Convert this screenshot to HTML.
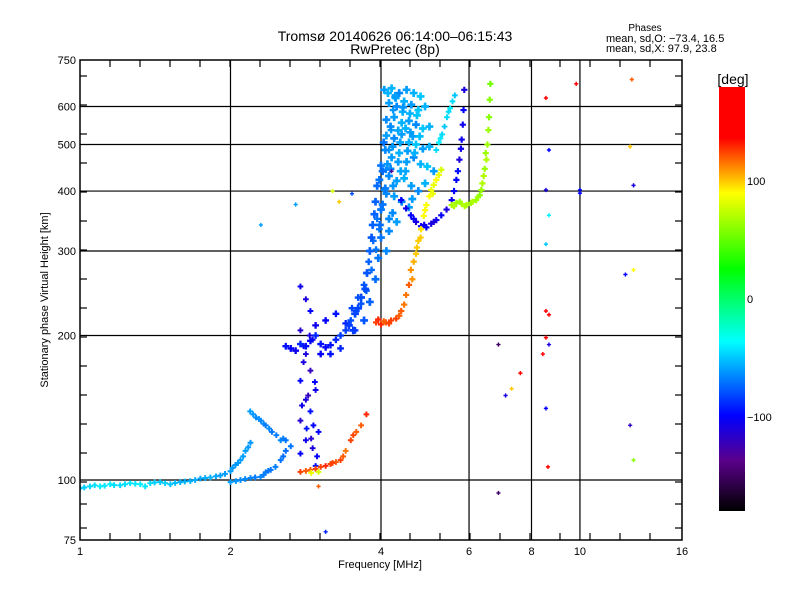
<!DOCTYPE html>
<html><head><meta charset="utf-8"><style>
html,body{margin:0;padding:0;background:#fff;}
svg{display:block;font-family:"Liberation Sans",sans-serif;}
</style></head><body>
<svg id="chart" width="800" height="600" viewBox="0 0 800 600">
<rect x="0" y="0" width="800" height="600" fill="#fff"/>
<defs>
<linearGradient id="cbar" x1="0" y1="0" x2="0" y2="1">
<stop offset="0" stop-color="#ff0000"/><stop offset="0.12" stop-color="#ff0000"/>
<stop offset="0.25" stop-color="#ffff00"/><stop offset="0.43" stop-color="#00ff00"/>
<stop offset="0.6" stop-color="#00ffff"/><stop offset="0.775" stop-color="#0000ff"/>
<stop offset="0.88" stop-color="#5a008c"/><stop offset="1" stop-color="#000000"/>
</linearGradient>
<clipPath id="plotclip"><rect x="80" y="60" width="602" height="480"/></clipPath>
</defs>
<g id="grid"></g>
<g id="marks" clip-path="url(#plotclip)"></g>
<rect x="80" y="60" width="602" height="480" fill="none" stroke="#000" stroke-width="1.5"/>
<g id="ticks"></g>
<text x="395" y="41" font-size="14" text-anchor="middle">Tromsø 20140626 06:14:00–06:15:43</text>
<text x="395" y="54" font-size="14" text-anchor="middle">RwPretec (8p)</text>
<text x="645" y="31" font-size="10" text-anchor="middle">Phases</text>
<text x="606" y="42" font-size="11">mean, sd,O: −73.4, 16.5</text>
<text x="606" y="52" font-size="11">mean, sd,X:  97.9, 23.8</text>
<text x="380" y="568" font-size="11" text-anchor="middle">Frequency [MHz]</text>
<text x="48" y="300" font-size="11" text-anchor="middle" transform="rotate(-90 48 300)">Stationary phase Virtual Height [km]</text>
<rect x="719" y="87" width="26" height="424" fill="url(#cbar)"/>
<text x="733" y="84" font-size="14" text-anchor="middle">[deg]</text>
<g id="cbticks"></g>
</svg>
<script>
const xTickVals = [1,2,4,6,8,10,16];
const xTickLabels = ["1","2","4","6","8","10","16"];
const yTickVals = [75,100,200,300,400,500,600,750];
const yTickLabels = ["75","100","200","300","400","500","600","750"];
const cbVals = [100,0,-100];
const cbLabels = ["100","0","−100"];

const aF=[1.0,1.02,1.047,1.07,1.097,1.12,1.149,1.17,1.203,1.23,1.26,1.29,1.32,1.35,1.382,1.41,1.447,1.48,1.516,1.55,1.587,1.62,1.662,1.70,1.741,1.78,1.823,1.87,1.909,1.95,2.0,2.02,2.046,2.07,2.094,2.12,2.143,2.17,2.193];
const aH=[96.1,96.5,97,97.5,97,97.3,98,97.6,97.5,98,98.5,98.2,98,97,98.5,98.8,99,98.5,98,98.6,99,99.3,99.5,100,100.7,101,101.2,101.8,102.2,103,104.3,106,107.5,108.5,110,112,115,117,119.6];
const aP=[-50,-48,-45,-45,-40,-42,-40,-44,-45,-44,-42,-42,-40,-42,-45,-48,-50,-48,-50,-52,-55,-55,-55,-57,-58,-56,-55,-58,-60,-60,-60,-61,-62,-61,-60,-60,-60,-61,-62];
const bF=[2.0,2.05,2.094,2.14,2.193,2.24,2.297,2.33,2.352,2.38,2.407,2.46,2.52,2.55,2.58,2.64];
const bH=[99,99.5,100,100.5,101,101.3,101.5,102.5,103.8,104.5,105,106.5,110,112,115,117.6];
const bP=[-60,-62,-65,-65,-66,-68,-65,-68,-68,-70,-70,-68,-70,-72,-72,-70];
const cF=[2.19,2.22,2.25,2.28,2.3,2.33,2.352,2.39,2.42,2.47,2.52,2.55,2.58];
const cH=[139,137,135,134,133,131,130,128,126,124,121,122,121];
const cP=[-60,-62,-65,-63,-65,-66,-68,-65,-70,-68,-65,-68,-70];
const dF=[2.76,2.83,2.89,2.76,2.92,2.83,2.89,2.76,2.96,2.83,2.89,2.76,3.0,2.83,2.92,2.76,2.96,2.8,2.86,2.93,2.78,2.9,2.95,2.8,2.88,2.98,2.84];
const dH=[253,238,225,205,196,183,169,161,154,147,139,133,126,121,116.5,113.5,107,176,150,130,143,122,160,190,200,112,128];
const dP=[-105,-110,-100,-115,-105,-110,-120,-100,-105,-110,-95,-115,-100,-105,-110,-100,-95,-110,-120,-100,-105,-115,-100,-105,-110,-100,-95];
const eF=[2.58,2.64,2.70,2.76,2.83,2.89,2.96,3.03,3.1,3.17,3.25,3.32,3.4,3.48,3.57,3.65,3.03,3.17,3.32,2.96,3.1,3.25,3.4,3.55,3.6,3.5,3.74,3.83,3.91,3.97,4.0,4.06,4.09,4.15,4.19,4.23,4.27,3.7,3.78,3.86,3.93];
const eH=[190,188,186,192,190,195,200,192,189,191,196,200,205,215,225,233,183,183,188,210,215,222,212,205,240,228,248,274,302,333,366,402,443,487,536,590,633,255,285,315,350];
const eP=[-95,-100,-105,-90,-95,-100,-90,-95,-100,-95,-90,-85,-85,-80,-80,-78,-100,-95,-90,-105,-100,-95,-90,-85,-80,-82,-75,-72,-70,-70,-68,-65,-65,-62,-60,-62,-60,-78,-75,-72,-70];
const blobF=[4.06,4.2,4.35,4.5,4.65,4.8,4.15,4.3,4.45,4.6,4.75,4.9,4.1,4.25,4.4,4.55,4.7,4.85,5.0,4.1,4.25,4.4,4.55,4.7,4.85,5.0,4.08,4.2,4.35,4.5,4.65,4.8,4.95,5.1,4.0,4.15,4.3,4.45,4.6,4.75,4.9,3.97,4.1,4.25,4.4,4.55,3.9,4.0,4.15,4.3,3.85,4.0,4.15,3.8,3.95,4.1,3.75,3.9,3.65,3.8,3.55,3.7,3.45,4.28,4.42,4.58,4.12,4.38,4.62,4.22,4.13,4.27,4.43,4.57,4.72,4.18,4.33,4.48,4.63,4.78,4.05,4.22,4.37,4.52,4.67,4.03,4.18,4.33,4.48,3.93,4.08,4.23,3.88,4.03,3.83,3.98,3.72,3.6,3.52];
const blobH=[650,655,640,650,640,630,610,600,615,605,590,600,563,570,555,560,550,540,545,522,515,525,505,500,490,495,487,470,480,460,470,455,450,440,452,430,420,425,410,400,415,422,395,390,380,370,380,366,350,345,340,320,330,300,290,300,270,262,240,235,222,215,210,625,585,530,455,440,385,360,640,628,598,580,575,545,535,540,520,520,505,495,505,485,480,440,445,460,440,410,405,410,358,375,320,340,250,228,205];
const blobP=[-60,-55,-65,-60,-55,-50,-60,-65,-55,-60,-50,-55,-65,-60,-55,-60,-65,-50,-55,-60,-65,-60,-55,-50,-60,-55,-65,-60,-55,-60,-65,-55,-50,-60,-70,-65,-60,-55,-60,-65,-55,-70,-65,-60,-65,-60,-75,-70,-65,-60,-75,-70,-65,-75,-70,-65,-78,-72,-80,-75,-82,-78,-85,-58,-55,-60,-62,-58,-60,-65,-55,-60,-62,-55,-50,-65,-58,-55,-60,-52,-70,-62,-58,-60,-55,-72,-65,-60,-58,-72,-68,-62,-75,-70,-78,-72,-80,-82,-85];
const fF=[4.39,4.49,4.59,4.7,4.81,4.93,5.04,5.16,5.28,5.41,5.54,5.66,5.74,5.8,5.85,5.87,5.7,5.83,4.65,4.88,5.1,5.6,5.78];
const fH=[383,368,356,345,338,336,342,348,356,366,383,422,465,512,590,650,440,550,350,340,345,400,490];
const fP=[-100,-105,-100,-110,-105,-100,-110,-105,-100,-110,-105,-100,-110,-105,-100,-110,-95,-105,-100,-105,-110,-100,-105];
const gF=[5.16,5.22,5.3,5.36,5.42,5.5,5.56,5.62,5.26,5.46];
const gH=[487,505,525,545,570,595,615,633,515,585];
const gP=[-45,-40,-45,-50,-45,-40,-45,-50,-42,-45];
const hF=[3.91,4.0,4.09,4.19,4.29,4.39,4.49,4.59,4.65,4.7,4.75,4.81,4.87,4.93,5.04,5.1,5.16,5.22,5.28,4.55,4.8,5.0,3.95,4.05,4.15,4.35,4.45,4.62,4.72,4.9,5.08];
const hH=[213,211,213,215,217,225,243,274,285,296,315,333,355,374,402,412,422,432,443,255,320,390,216,214,212,220,232,262,305,365,395];
const hP=[125,130,120,125,125,120,115,110,105,100,100,95,90,90,85,85,90,85,80,120,100,90,130,120,125,120,115,110,100,90,85];
const iF=[5.54,5.66,5.8,5.93,6.05,6.2,6.3,6.35,6.42,6.5,6.53,6.56,6.6,6.62,6.1,6.45,5.6,5.75,5.88,6.25,6.38,6.48,6.58];
const iH=[374,378,376,374,378,383,392,402,430,465,500,536,620,669,380,445,372,380,372,388,415,480,570];
const iP=[70,65,70,70,65,65,60,65,70,70,65,65,60,55,70,65,70,65,70,65,70,65,60];
const jF=[2.76,2.83,2.89,2.96,3.03,3.1,3.17,3.25,3.32,3.4,3.48,3.57,3.65,3.74,2.9,3.0,3.2,3.36,3.52];
const jH=[104,104.5,105,105.5,106.5,107,108,109,110,115,121,126,130,137,103.5,104,108.5,112,124];
const jP=[125,120,120,125,125,130,125,120,125,115,125,120,120,130,85,80,125,120,125];
const kF=[12.7,12.6,12.8,12.33,12.8,12.6,12.8,8.55,8.67,8.55,8.67,8.55,8.55,8.67,8.55,8.67,8.43,8.55,8.63,9.83,10.0,10.0,7.6,7.1,6.87,6.87,7.3,3.2,3.5,3.3,3.1,2.3,2.7,4.2,3.0];
const kH=[683,495,411,268,274,130,110,625,487,402,356,310,225,221,198,191.5,183,141,106.5,669,396,402,167,150,191.5,94,155,400,395,380,78,340,375,440,97];
const kP=[120,100,-110,-100,90,-120,60,140,-100,-110,-40,-50,140,160,160,-110,140,-100,140,140,-100,-100,140,-110,-150,-150,100,80,-80,100,-90,-60,-60,-130,120];

const X0=80,X1=682,Y0=540,Y1=60;
function xs(f){return X0+(X1-X0)*Math.log2(f)/4;}
function ys(h){return Y0-(Y0-Y1)*Math.log10(h/75);}
function cy(p){return 87+(180-p)/360*424;}
const stops=[[180,[255,0,0]],[137,[255,0,0]],[90,[255,255,0]],[26,[0,255,0]],[-36,[0,255,255]],[-99,[0,0,255]],[-137,[90,0,140]],[-180,[0,0,0]]];
function col(p){
  for(let i=0;i<stops.length-1;i++){
    const a=stops[i],b=stops[i+1];
    if(p<=a[0]&&p>=b[0]){const t=(a[0]-p)/(a[0]-b[0]);
      return 'rgb('+a[1].map((v,k)=>Math.round(v+(b[1][k]-v)*t)).join(',')+')';}
  }
  return p>180?'rgb(255,0,0)':'rgb(0,0,0)';
}
const NS='http://www.w3.org/2000/svg';
function mk(tag,attrs,parent){const e=document.createElementNS(NS,tag);for(const k in attrs)e.setAttribute(k,attrs[k]);parent.appendChild(e);return e;}
const grid=document.getElementById('grid'),ticks=document.getElementById('ticks'),marks=document.getElementById('marks'),cbt=document.getElementById('cbticks');

[2,4,6,8,10].forEach(f=>{const l=mk('line',{x1:xs(f),x2:xs(f),y1:Y1,y2:Y0,stroke:'#000','stroke-width':1.2},grid);

});
[100,200,300,400,500,600].forEach(h=>{const l=mk('line',{x1:X0,x2:X1,y1:ys(h),y2:ys(h),stroke:'#000','stroke-width':1.2},grid);

});

for(let i=1;i<20;i++){const x=X0+i*30;
  const t1=mk('line',{x1:x,x2:x,y1:Y0,y2:Y0-7,stroke:'#000','stroke-width':1.2},ticks);
  
  
  const t2=mk('line',{x1:x,x2:x,y1:Y1,y2:Y1+7,stroke:'#000','stroke-width':1.2},ticks);
  
  }
for(let y=Y0-29*2;y>Y1;y-=29){
  [[X0,X0+7],[X1,X1-7]].forEach(s=>{const t=mk('line',{x1:s[0],x2:s[1],y1:y,y2:y,stroke:'#000','stroke-width':1.2},ticks);
  
  });}
[504,528].forEach(y=>{[[X0,X0+7],[X1,X1-7]].forEach(s=>{const t=mk('line',{x1:s[0],x2:s[1],y1:y,y2:y,stroke:'#000','stroke-width':1.2},ticks);
  
  });});

xTickVals.forEach((f,i)=>{const t=mk('text',{x:xs(f),y:Y0+15,'font-size':11,'text-anchor':'middle'},ticks);t.textContent=xTickLabels[i];

});
yTickVals.forEach((h,i)=>{const t=mk('text',{x:X0-4,y:ys(h)+4,'font-size':11,'text-anchor':'end'},ticks);t.textContent=yTickLabels[i];

});
cbVals.forEach((p,i)=>{const t=mk('text',{x:747,y:cy(p)+4,'font-size':11},cbt);t.textContent=cbLabels[i];

});

const series=[[aF,aH,aP],[bF,bH,bP],[cF,cH,cP],[dF,dH,dP],[eF,eH,eP],[blobF,blobH,blobP],[fF,fH,fP],[gF,gH,gP],[hF,hH,hP],[iF,iH,iP],[jF,jH,jP],[kF,kH,kP]];
const sizes=[1.1,1.1,1.1,1.1,1.3,1.5,1.2,1.1,1.2,1.2,1.1,0.8];
series.forEach((s,si)=>{
  const sc=sizes[si];
  for(let i=0;i<s[0].length;i++){
    const x=xs(s[0][i]),y=ys(s[1][i]),c=col(s[2][i]);
    const d=2.6*sc;
    const p=mk('path',{d:`M${x-d},${y}H${x+d}M${x},${y-d}V${y+d}`,stroke:c,'stroke-width':1.8*sc,fill:'none'},marks);
    
    
  }
});
</script>
</body></html>
